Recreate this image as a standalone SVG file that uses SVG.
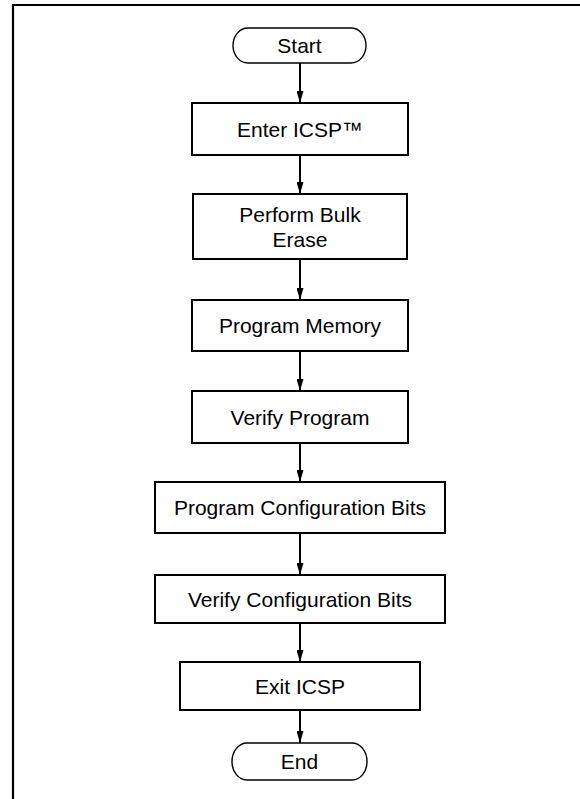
<svg xmlns="http://www.w3.org/2000/svg" width="580" height="799" viewBox="0 0 580 799">
<defs>
<style>
.box{fill:#fff;stroke:#000;stroke-width:2}
.term{fill:#fff;stroke:#000;stroke-width:1.4}
.t{font-family:"Liberation Sans",Arial,sans-serif;font-size:21px;fill:#000;text-anchor:middle}
.c{stroke:#000;stroke-width:2;fill:none;marker-end:url(#ah)}
</style>
<marker id="ah" markerWidth="12" markerHeight="7" refX="12" refY="3.5" orient="auto" markerUnits="userSpaceOnUse" viewBox="0 0 12 7">
<path d="M0,0 L12,3.5 L0,7 Z" fill="#000"/>
</marker>
</defs>
<rect width="580" height="799" fill="#fff"/>
<path d="M13,799 V5 H580" fill="none" stroke="#000" stroke-width="2.2"/>
<g id="connectors">
<line class="c" x1="300" y1="63" x2="300" y2="103"/>
<line class="c" x1="300" y1="155" x2="300" y2="194"/>
<line class="c" x1="300" y1="259" x2="300" y2="300"/>
<line class="c" x1="300" y1="351" x2="300" y2="391"/>
<line class="c" x1="300" y1="443" x2="300" y2="482"/>
<line class="c" x1="300" y1="533" x2="300" y2="575"/>
<line class="c" x1="300" y1="623" x2="300" y2="662"/>
<line class="c" x1="300" y1="710" x2="300" y2="743"/>
</g>
<g id="start">
<rect class="term" x="233" y="28" width="133" height="35" rx="15" ry="17.5"/>
<text class="t" x="299.5" y="53">Start</text>
</g>
<g id="enter-icsp">
<rect class="box" x="192" y="103" width="216" height="52"/>
<text class="t" x="300" y="136.5">Enter ICSP™</text>
</g>
<g id="bulk-erase">
<rect class="box" x="193" y="194" width="214" height="65"/>
<text class="t" x="300" y="222">Perform Bulk</text>
<text class="t" x="300" y="247">Erase</text>
</g>
<g id="program-memory">
<rect class="box" x="192" y="300" width="216" height="51"/>
<text class="t" x="300" y="333">Program Memory</text>
</g>
<g id="verify-program">
<rect class="box" x="192" y="391" width="216" height="52"/>
<text class="t" x="300" y="424.5">Verify Program</text>
</g>
<g id="program-config">
<rect class="box" x="155" y="482" width="290" height="51"/>
<text class="t" x="300" y="515">Program Configuration Bits</text>
</g>
<g id="verify-config">
<rect class="box" x="155" y="575" width="290" height="48"/>
<text class="t" x="300" y="606.5">Verify Configuration Bits</text>
</g>
<g id="exit-icsp">
<rect class="box" x="180" y="662" width="240" height="48"/>
<text class="t" x="300" y="693.5">Exit ICSP</text>
</g>
<g id="end">
<rect class="term" x="232" y="743" width="135" height="37" rx="15" ry="18.5"/>
<text class="t" x="299.5" y="769">End</text>
</g>
</svg>
